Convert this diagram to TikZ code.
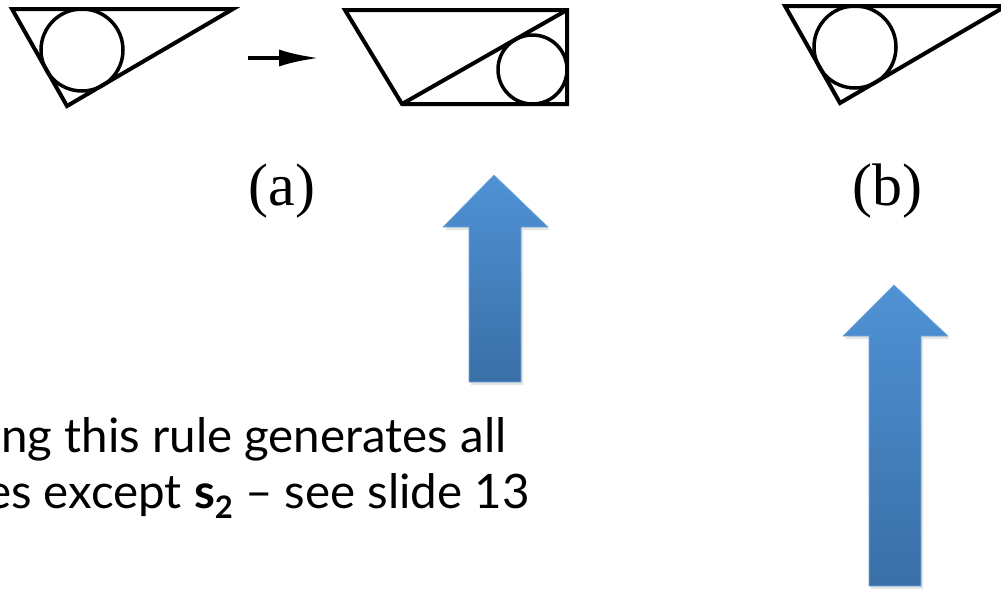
\documentclass[tikz,border=0pt]{standalone}
\usepackage{fontspec}
\setmainfont{Lato}
\newfontfamily\serifrm{Liberation Serif}
\usetikzlibrary{arrows.meta}
\definecolor{arrtop}{RGB}{79,146,213}
\definecolor{arrbot}{RGB}{58,111,167}
\tikzset{
  geo/.style={draw=black, line width=4pt, line join=miter},
  bigarrow/.style={top color=arrtop, bottom color=arrbot, draw=arrtop!80!white, line width=0.6pt},
  arrshadow/.style={fill=black, opacity=0.10},
  caption/.style={font=\serifrm\fontsize{60}{60}\selectfont, inner sep=0pt},
  bodytext/.style={font=\fontsize{47.5}{47.5}\selectfont, inner sep=0pt}
}
\begin{document}
\begin{tikzpicture}[x=1pt,y=-1pt]
\useasboundingbox (0,0) rectangle (1001,592);
\clip (0,0) rectangle (1001,592);
\fill[white] (0,0) rectangle (1001,592);
% triangle (a), left
\draw[geo] (12,9) -- (233,9) -- (67,106) -- cycle;
\draw[geo, line width=3.5pt] (82,50) circle (41);
% small arrow
\coordinate (sa) at (248,58);
\coordinate (sb) at (319,58);
\draw[line width=4pt, -{Latex[length=40pt,width=17pt]}] (sa) -- (sb);
% quadrilateral (a), right
\draw[geo] (345,10) -- (567,10) -- (567,104) -- (402,104) -- cycle;
\draw[geo] (402,104) -- (567,10);
\draw[geo, line width=3.5pt] (532.5,69.5) circle (34.5);
% triangle (b)
\begin{scope}[shift={(773,-3)}]
\draw[geo] (12,9) -- (233,9) -- (67,106) -- cycle;
\draw[geo, line width=3.5pt] (82,50) circle (41);
\end{scope}
% captions
\node[caption] (capa) at (282,191) {(a)};
\node[caption] (capb) at (887,191) {(b)};
% big arrows
\begin{scope}[shift={(2,3)}]
\fill[arrshadow] (469,227) -- (443,227) -- (494,175) -- (548,227) -- (521,227) -- (521,382) -- (469,382) -- cycle;
\fill[arrshadow] (869,336) -- (843,336) -- (894,285) -- (948,336) -- (921,336) -- (921,586) -- (869,586) -- cycle;
\end{scope}
\shade[bigarrow] (469,227) -- (443,227) -- (494,175) -- (548,227) -- (521,227) -- (521,382) -- (469,382) -- cycle;
\shade[bigarrow] (869,336) -- (843,336) -- (894,285) -- (948,336) -- (921,336) -- (921,586) -- (869,586) -- cycle;
% text
\node[bodytext, anchor=base west] (line1) at (1,452) {ng this rule generates all};
\node[bodytext, anchor=base east] (line2) at (530,508) {es except \textbf{s}\raisebox{-0.22em}{\fontsize{31}{31}\selectfont\bfseries 2} – see slide 13};
\end{tikzpicture}
\end{document}
